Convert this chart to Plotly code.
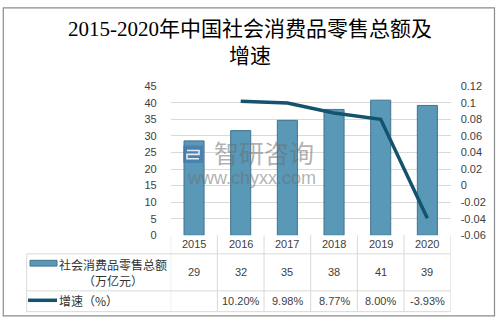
import plotly.graph_objects as go

W, H = 501, 327

years = ["2015", "2016", "2017", "2018", "2019", "2020"]
sales = [28.5, 31.6, 34.7, 38.0, 40.8, 39.2]          # 万亿元 (bar heights)
sales_labels = ["29", "32", "35", "38", "41", "39"]
growth = [None, 0.1020, 0.0998, 0.0877, 0.0800, -0.0393]
growth_labels = ["", "10.20%", "9.98%", "8.77%", "8.00%", "-3.93%"]
left_ticks = [0, 5, 10, 15, 20, 25, 30, 35, 40, 45]
right_ticks = [-0.06, -0.04, -0.02, 0, 0.02, 0.04, 0.06, 0.08, 0.1, 0.12]
right_tick_text = ["-0.06", "-0.04", "-0.02", "0", "0.02", "0.04", "0.06", "0.08", "0.1", "0.12"]

def X(px):
    return px / W

def Y(py):
    return 1 - py / H

plot_l, plot_r, plot_t, plot_b = 170.7, 450.7, 83.3, 238.0
row1_t, row2_t, tab_b, tab_l = 257.3, 295.7, 317.3, 26.7

BAR = "#5a98b7"
BAR_EDGE = "#42748d"
LINE = "#13536d"
GRID = "#d9d9d9"
TXT = "#404040"
CJK = "Noto Sans CJK SC"
WM = "rgba(110,110,110,0.55)"

fig = go.Figure()
fig.add_trace(go.Bar(x=years, y=sales, marker=dict(color=BAR, line=dict(color=BAR_EDGE, width=1)),
                     name="社会消费品零售总额（万亿元）", showlegend=False))
fig.add_trace(go.Scatter(x=years, y=growth, yaxis="y2", mode="lines",
                         line=dict(color=LINE, width=3.5), name="增速（%）", showlegend=False))

fig.update_layout(
    width=W, height=H,
    margin=dict(l=0, r=0, t=0, b=0),
    paper_bgcolor="white", plot_bgcolor="white",
    bargap=0.57,
    xaxis=dict(type="category", categoryarray=years, range=[-0.5, len(years) - 0.5],
               domain=[X(plot_l), X(plot_r)], showticklabels=False, showgrid=False,
               zeroline=False, showline=False, ticks=""),
    yaxis=dict(domain=[Y(plot_b), Y(plot_t)], range=[0, 45], tickvals=left_ticks,
               showgrid=True, gridcolor=GRID, gridwidth=1, zeroline=False,
               tickfont=dict(family="Liberation Sans, Arial", size=11, color=TXT),
               ticklabelstandoff=13),
    yaxis2=dict(overlaying="y", side="right", range=[-0.06, 0.12], tickvals=right_ticks,
                ticktext=right_tick_text, showgrid=False, zeroline=False,
                tickfont=dict(family="Liberation Sans, Arial", size=11, color=TXT),
                ticklabelstandoff=9),
    font=dict(family=CJK, color=TXT),
)

shapes = []
# outer border
shapes.append(dict(type="rect", xref="paper", yref="paper", x0=X(3.3), x1=X(494.5), y0=Y(321.7), y1=Y(2),
                   line=dict(color="#8c8c8c", width=1.2), fillcolor="rgba(0,0,0,0)", layer="below"))
# table lines
for i in range(len(years) + 1):
    shapes.append(dict(type="line", xref="x", yref="paper", x0=i - 0.5, x1=i - 0.5,
                       y0=Y(plot_b), y1=Y(tab_b), line=dict(color=GRID, width=1)))
shapes.append(dict(type="line", xref="paper", yref="paper", x0=X(tab_l), x1=X(tab_l),
                   y0=Y(row1_t), y1=Y(tab_b), line=dict(color=GRID, width=1)))
for yy in (row1_t, row2_t, tab_b):
    shapes.append(dict(type="line", xref="paper", yref="paper", x0=X(tab_l), x1=X(plot_r),
                       y0=Y(yy), y1=Y(yy), line=dict(color=GRID, width=1)))
# legend swatches
shapes.append(dict(type="rect", xref="paper", yref="paper", x0=X(30), x1=X(57), y0=Y(270), y1=Y(264),
                   fillcolor=BAR, line=dict(color=BAR_EDGE, width=1)))
shapes.append(dict(type="line", xref="paper", yref="paper", x0=X(28), x1=X(57), y0=Y(305.5), y1=Y(305.5),
                   line=dict(color=LINE, width=3.5)))
# watermark logo
shapes.append(dict(type="rect", xref="paper", yref="paper", x0=X(183), x1=X(203), y0=Y(163), y1=Y(145),
                   fillcolor="rgba(60,105,165,0.5)", line=dict(width=0)))
shapes.append(dict(type="path", xref="paper", yref="paper",
                   path=f"M {X(187)} {Y(150)} L {X(199)} {Y(150)} L {X(199)} {Y(154)} L {X(187)} {Y(154)} "
                        f"L {X(187)} {Y(158.5)} L {X(199)} {Y(158.5)}",
                   line=dict(color="rgba(255,255,255,0.85)", width=1.6)))
fig.update_layout(shapes=shapes)

ann = []
# title
ann.append(dict(text="2015-2020年中国社会消费品零售总额及<br>增速", xref="paper", yref="paper",
                x=X(250), y=Y(38), showarrow=False, xanchor="center", yanchor="middle",
                font=dict(family="Liberation Serif, " + CJK, size=21, color="#000000")))
# table cells (x given as category index)
num_font = dict(family="Liberation Sans, Arial", size=11, color=TXT)
for i, yr in enumerate(years):
    ann.append(dict(text=yr, xref="x", yref="paper", x=i, y=Y(247.5), showarrow=False,
                    xanchor="center", yanchor="middle", font=num_font))
    ann.append(dict(text=sales_labels[i], xref="x", yref="paper", x=i, y=Y(276.5), showarrow=False,
                    xanchor="center", yanchor="middle", font=num_font))
    if growth_labels[i]:
        ann.append(dict(text=growth_labels[i], xref="x", yref="paper", x=i, y=Y(306.5), showarrow=False,
                        xanchor="center", yanchor="middle", font=num_font))
lab_font = dict(family=CJK, size=12, color="#333333")
ann.append(dict(text="社会消费品零售总额", xref="paper", yref="paper", x=X(113), y=Y(268),
                xanchor="center", yanchor="middle", showarrow=False, font=lab_font))
ann.append(dict(text="（万亿元）", xref="paper", yref="paper", x=X(113), y=Y(284.5),
                xanchor="center", yanchor="middle", showarrow=False, font=lab_font))
ann.append(dict(text="增速（%）", xref="paper", yref="paper", x=X(57), y=Y(305.5), xanchor="left",
                yanchor="middle", showarrow=False, font=lab_font))
# watermark text
ann.append(dict(text="智研咨询", xref="paper", yref="paper", x=X(264), y=Y(152), xanchor="center",
                yanchor="middle", showarrow=False, font=dict(family=CJK, size=25, color=WM)))
ann.append(dict(text="www.chyxx.com", xref="paper", yref="paper", x=X(252), y=Y(178.5), xanchor="center",
                yanchor="middle", showarrow=False,
                font=dict(family="Liberation Sans, Arial", size=18, color=WM)))
fig.update_layout(annotations=ann)

fig.write_html("out.html")
